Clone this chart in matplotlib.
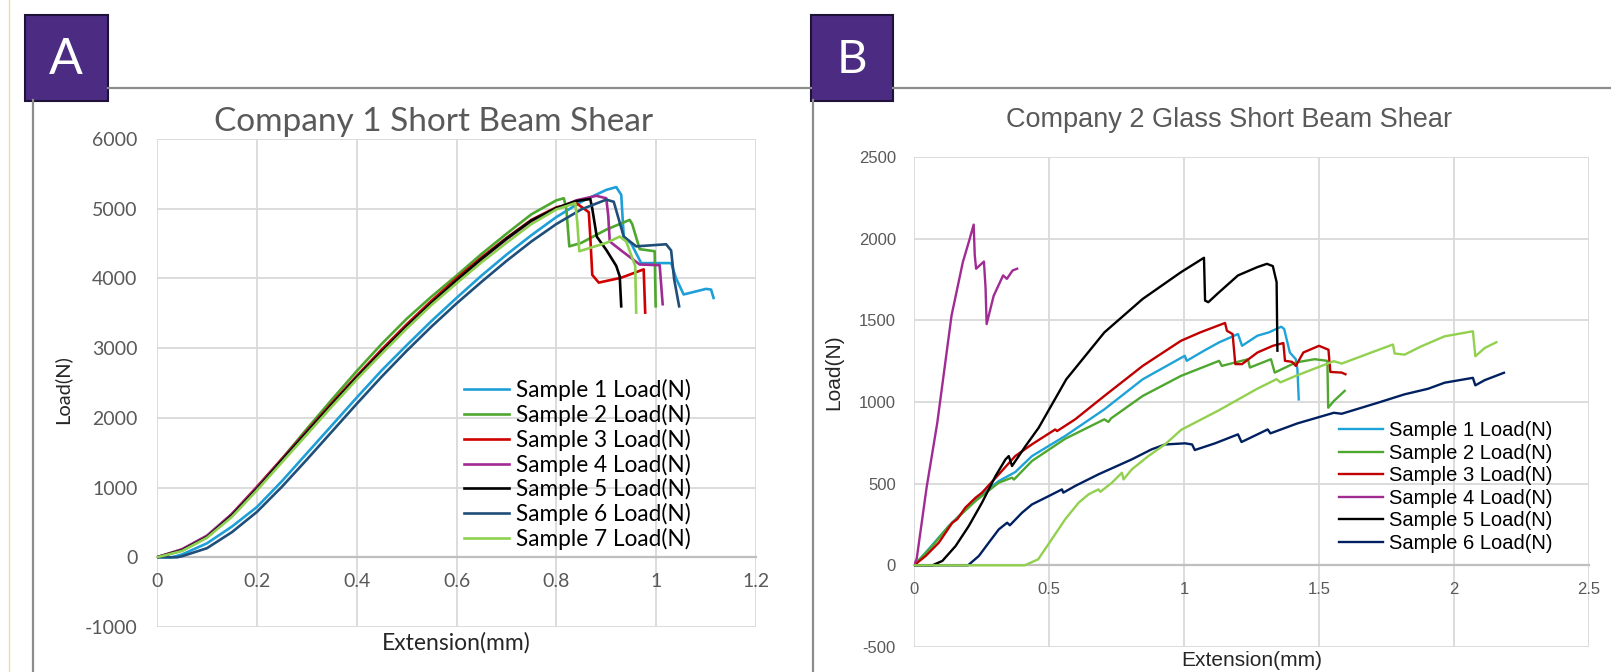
import matplotlib
matplotlib.use('Agg')
import matplotlib.pyplot as plt
from matplotlib.patches import Rectangle
from matplotlib.ticker import FuncFormatter

plt.rcParams['axes.unicode_minus'] = False

# ---- data: Company 1 (panel A) ----
rise_x = [0, 0.05, 0.1, 0.15, 0.2, 0.25, 0.3, 0.35, 0.4, 0.45, 0.5, 0.55, 0.6, 0.65, 0.7, 0.75, 0.8]

a1_x = [0, 0.03, 0.05, 0.1, 0.15, 0.2, 0.25, 0.3, 0.35, 0.4, 0.45, 0.5, 0.55, 0.6, 0.65, 0.7, 0.75, 0.8,
        0.85, 0.9, 0.92, 0.93, 0.935, 0.95, 0.97, 1.03, 1.04, 1.055, 1.1, 1.11, 1.115]
a1_y = [0, 0, 40, 200, 440, 720, 1090, 1490, 1890, 2290, 2680, 3040, 3390, 3720, 4040, 4340, 4620, 4880,
        5100, 5270, 5310, 5200, 4600, 4500, 4220, 4220, 4000, 3770, 3850, 3840, 3720]

a2_x = rise_x + [0.815, 0.82, 0.826, 0.85, 0.9, 0.947, 0.952, 0.967, 0.997, 0.999]
a2_y = [0, 100, 290, 600, 990, 1410, 1840, 2260, 2670, 3060, 3420, 3740, 4040, 4350, 4640, 4920, 5120,
        5150, 5000, 4460, 4510, 4700, 4840, 4780, 4420, 4390, 3600]

a3_x = rise_x + [0.84, 0.865, 0.868, 0.872, 0.885, 0.93, 0.975, 0.978]
a3_y = [0, 110, 300, 620, 1010, 1410, 1810, 2210, 2600, 2980, 3340, 3680, 4000, 4300, 4580, 4840, 5020,
        5080, 4950, 4600, 4050, 3940, 4010, 4130, 3510]

a4_x = rise_x + [0.84, 0.88, 0.9, 0.904, 0.907, 0.93, 0.967, 1.007, 1.013]
a4_y = [0, 115, 310, 620, 1000, 1400, 1800, 2190, 2580, 2950, 3310, 3650, 3970, 4270, 4560, 4820, 5000,
        5120, 5185, 5150, 4900, 4530, 4400, 4200, 4190, 3630]

a5_x = rise_x + [0.84, 0.868, 0.872, 0.881, 0.9, 0.92, 0.927, 0.93]
a5_y = [0, 100, 290, 600, 980, 1390, 1790, 2190, 2580, 2950, 3310, 3650, 3970, 4280, 4570, 4830, 5010,
        5110, 5140, 5000, 4600, 4410, 4180, 4030, 3600]

a6_x = [0, 0.04, 0.05, 0.1, 0.15, 0.2, 0.25, 0.3, 0.35, 0.4, 0.45, 0.5, 0.55, 0.6, 0.65, 0.7, 0.75, 0.8,
        0.85, 0.9, 0.915, 0.925, 0.935, 0.96, 1.02, 1.03, 1.036, 1.046]
a6_y = [0, 0, 15, 130, 360, 650, 1010, 1400, 1800, 2200, 2590, 2960, 3310, 3640, 3950, 4250, 4530, 4780,
        4990, 5130, 5100, 4850, 4600, 4460, 4490, 4400, 3990, 3600]

a7_x = rise_x + [0.838, 0.842, 0.846, 0.9, 0.927, 0.94, 0.958, 0.96]
a7_y = [0, 90, 280, 580, 960, 1360, 1760, 2160, 2550, 2920, 3280, 3620, 3930, 4230, 4510, 4780, 4990,
        5080, 4800, 4390, 4510, 4600, 4530, 4180, 3510]

# ---- data: Company 2 glass (panel B) ----
b1_x = [0, 0.043, 0.129, 0.228, 0.314, 0.375, 0.437, 0.56, 0.705, 0.847, 1.003, 1.01, 1.074, 1.13, 1.2,
        1.215, 1.272, 1.314, 1.36, 1.371, 1.392, 1.414, 1.42, 1.425]
b1_y = [0, 78, 241, 404, 516, 571, 669, 792, 955, 1139, 1283, 1252, 1314, 1365, 1416,
        1344, 1406, 1426, 1461, 1447, 1303, 1262, 1201, 1016]

b2_x = [0, 0.068, 0.129, 0.228, 0.314, 0.363, 0.37, 0.437, 0.56, 0.705, 0.72, 0.73, 0.847, 0.989, 1.13,
        1.14, 1.237, 1.244, 1.322, 1.336, 1.414, 1.484, 1.531, 1.534, 1.555, 1.595]
b2_y = [0, 118, 241, 394, 506, 537, 525, 639, 775, 894, 878, 900, 1037, 1160, 1252,
        1221, 1262, 1211, 1262, 1180, 1242, 1262, 1252, 965, 1006, 1068]

b3_x = [0, 0.043, 0.092, 0.142, 0.16, 0.19, 0.228, 0.252, 0.314, 0.375, 0.437, 0.523, 0.53, 0.597, 0.705,
        0.847, 0.989, 1.06, 1.152, 1.159, 1.18, 1.19, 1.215, 1.272, 1.329, 1.368, 1.374, 1.4, 1.414,
        1.442, 1.5, 1.535, 1.542, 1.584, 1.598]
b3_y = [0, 57, 139, 261, 282, 353, 414, 445, 557, 669, 741, 832, 822, 894, 1037,
        1221, 1375, 1426, 1484, 1436, 1416, 1232, 1232, 1303, 1344, 1361, 1252, 1246, 1221,
        1303, 1344, 1320, 1184, 1180, 1170]

b4_x = [0, 0.01, 0.047, 0.086, 0.139, 0.181, 0.203, 0.221, 0.225, 0.23, 0.259, 0.265, 0.269, 0.295, 0.33,
        0.344, 0.365, 0.382]
b4_y = [0, 40, 480, 870, 1529, 1857, 1980, 2086, 1900, 1816, 1860, 1700, 1477, 1650, 1775,
        1754, 1805, 1816]

b5_x = [0, 0.068, 0.105, 0.154, 0.203, 0.252, 0.302, 0.339, 0.351, 0.363, 0.413, 0.462, 0.564, 0.705,
        0.847, 0.989, 1.074, 1.078, 1.09, 1.13, 1.2, 1.272, 1.307, 1.329, 1.343, 1.346]
b5_y = [0, 0, 27, 118, 241, 384, 547, 649, 669, 608, 730, 843, 1139, 1426,
        1631, 1795, 1883, 1621, 1611, 1672, 1775, 1826, 1846, 1832, 1734, 1314]

b6_x = [0, 0.2, 0.24, 0.277, 0.314, 0.345, 0.355, 0.4, 0.437, 0.499, 0.548, 0.553, 0.597, 0.683, 0.807,
        0.88, 0.93, 1.004, 1.03, 1.04, 1.115, 1.2, 1.213, 1.31, 1.32, 1.42, 1.555, 1.584, 1.719, 1.817,
        1.904, 1.965, 2.07, 2.079, 2.114, 2.185]
b6_y = [0, 0, 57, 139, 220, 261, 245, 322, 373, 424, 465, 445, 486, 557, 649,
        710, 740, 747, 740, 706, 747, 802, 755, 832, 808, 869, 934, 928, 996, 1047,
        1081, 1118, 1148, 1102, 1134, 1179]

b7_x = [0, 0.41, 0.46, 0.51, 0.56, 0.61, 0.647, 0.683, 0.69, 0.733, 0.77, 0.776, 0.807, 0.868, 0.93, 0.99,
        1.13, 1.27, 1.343, 1.357, 1.414, 1.555, 1.584, 1.697, 1.774, 1.78, 1.817, 1.879, 1.965, 2.07,
        2.079, 2.114, 2.157]
b7_y = [0, 0, 37, 159, 282, 384, 435, 465, 450, 506, 567, 526, 588, 669, 741, 830,
        950, 1080, 1140, 1120, 1160, 1250, 1235, 1305, 1352, 1297, 1290, 1341, 1402, 1433,
        1280, 1331, 1366]

labels_a = ['Sample 1 Load(N)', 'Sample 2 Load(N)', 'Sample 3 Load(N)', 'Sample 4 Load(N)',
            'Sample 5 Load(N)', 'Sample 6 Load(N)', 'Sample 7 Load(N)']
labels_b = labels_a[:6]
colors_a = ['#1f9fd8', '#4ea72e', '#d00000', '#a02b93', '#000000', '#1f4e79', '#8ed04f']
colors_b = ['#1ea3d8', '#4ea72e', '#c00000', '#a02b93', '#000000', '#002060', '#92d050']

W, H = 1611, 672
FA = ['Lato', 'DejaVu Sans']
FB = ['Liberation Sans', 'DejaVu Sans']

fig = plt.figure(figsize=(W / 100, H / 100), dpi=100)


def frac(px, py):
    return px / W, 1 - py / H


def setup(ax, xmax, xstep, ymin, ymax, ystep, fam, fs, xpad, ypad):
    ax.set_xlim(0, xmax)
    ax.set_ylim(ymin, ymax)
    xt = [i * xstep for i in range(int(round(xmax / xstep)) + 1)]
    yt = list(range(ymin, ymax + 1, ystep))
    ax.set_xticks(xt)
    ax.set_yticks(yt)
    ax.xaxis.set_major_formatter(FuncFormatter(lambda v, p: '%g' % round(v, 2)))
    ax.grid(True, color='#d9d9d9', lw=1.3)
    ax.set_axisbelow(True)
    for s in ['top', 'right', 'left']:
        ax.spines[s].set_visible(False)
    ax.spines['bottom'].set_position(('data', 0))
    ax.spines['bottom'].set_color('#bfbfbf')
    ax.spines['bottom'].set_linewidth(1.6)
    ax.spines['bottom'].set_zorder(1.5)
    ax.tick_params(length=0, labelcolor='#595959', labelsize=fs)
    ax.tick_params(axis='x', pad=xpad)
    ax.tick_params(axis='y', pad=ypad)
    for t in ax.get_xticklabels() + ax.get_yticklabels():
        t.set_family(fam)


# panel A
l, b = frac(157, 627)
axA = fig.add_axes([l, b, 599 / W, 488 / H])
setup(axA, 1.2, 0.2, -1000, 6000, 1000, FA, 14, 11, 14)
a_xs = [a1_x, a2_x, a3_x, a4_x, a5_x, a6_x, a7_x]
a_ys = [a1_y, a2_y, a3_y, a4_y, a5_y, a6_y, a7_y]
for xs, ys, c, lab in zip(a_xs, a_ys, colors_a, labels_a):
    axA.plot(xs, ys, color=c, lw=1.9, label=lab, zorder=3)
axA.legend(loc='upper left', bbox_to_anchor=frac(464, 379), bbox_transform=fig.transFigure,
           frameon=False, borderpad=0, borderaxespad=0, handlelength=2.0, handletextpad=0.3,
           labelspacing=0.12, prop={'family': FA, 'size': 16.3})

# panel B
l, b = frac(914, 647)
axB = fig.add_axes([l, b, 675 / W, 490 / H])
setup(axB, 2.5, 0.5, -500, 2500, 500, FB, 12, 12, 13)
b_xs = [b1_x, b2_x, b3_x, b4_x, b5_x, b6_x, b7_x]
b_ys = [b1_y, b2_y, b3_y, b4_y, b5_y, b6_y, b7_y]
for i, (xs, ys, c) in enumerate(zip(b_xs, b_ys, colors_b)):
    lab = labels_b[i] if i < len(labels_b) else '_nolegend_'
    axB.plot(xs, ys, color=c, lw=1.7, label=lab, zorder=3)
axB.legend(loc='upper left', bbox_to_anchor=frac(1339, 421), bbox_transform=fig.transFigure,
           frameon=False, borderpad=0, borderaxespad=0, handlelength=2.2, handletextpad=0.3,
           labelspacing=0.18, prop={'family': FB, 'size': 14.5})

# overlay for frames, boxes and labels (pixel coordinates)
ov = fig.add_axes([0, 0, 1, 1], zorder=10)
ov.set_xlim(0, W)
ov.set_ylim(H, 0)
ov.axis('off')
ov.patch.set_alpha(0)

ov.plot([9, 9], [0, H], color='#f0dca8', lw=1)
ov.plot([33, 33], [100, H], color='#8c8c8c', lw=1.6)
ov.plot([813, 813], [100, H], color='#8c8c8c', lw=1.6)
ov.plot([108, 811], [88, 88], color='#8c8c8c', lw=1.6)
ov.plot([893, W], [88, 88], color='#8c8c8c', lw=1.6)
ov.add_patch(Rectangle((25, 15), 83, 86, facecolor='#4b2c82', edgecolor='#1e1238', lw=1.5))
ov.add_patch(Rectangle((811, 15), 82, 86, facecolor='#4b2c82', edgecolor='#1e1238', lw=1.5))
ov.text(66, 60, 'A', color='white', fontsize=36, ha='center', va='center', family=FA)
ov.text(852, 60, 'B', color='white', fontsize=34, ha='center', va='center', family=FA)

ov.text(434, 122, 'Company 1 Short Beam Shear', ha='center', va='center', fontsize=24,
        color='#595959', family=FA)
ov.text(1229, 120, 'Company 2 Glass Short Beam Shear', ha='center', va='center', fontsize=19.5,
        color='#595959', family=FB)
ov.text(62, 390, 'Load(N)', rotation=90, ha='center', va='center', fontsize=14.5,
        color='#262626', family=FA)
ov.text(834, 372, 'Load(N)', rotation=90, ha='center', va='center', fontsize=15,
        color='#262626', family=FB)
ov.text(456, 643, 'Extension(mm)', ha='center', va='center', fontsize=16.5, color='#262626', family=FA)
ov.text(1252, 661, 'Extension(mm)', ha='center', va='center', fontsize=15, color='#262626', family=FB)

fig.savefig('out.png', dpi=100)
